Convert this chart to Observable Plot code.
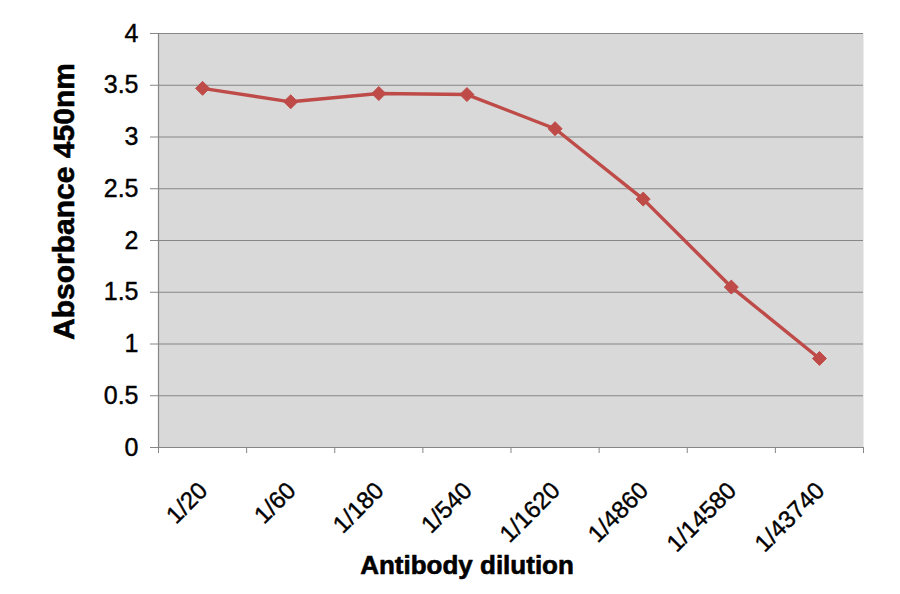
<!DOCTYPE html>
<html>
<head>
<meta charset="utf-8">
<script src="https://cdn.jsdelivr.net/npm/d3@7"></script>
<script src="https://cdn.jsdelivr.net/npm/@observablehq/plot@0.6"></script>
<style>
  html, body { margin: 0; padding: 0; background: #fff; }
  #chart svg { display: block; }
</style>
</head>
<body>
<div id="chart"></div>
<script>
const dilutions = ["1/20", "1/60", "1/180", "1/540", "1/1620", "1/4860", "1/14580", "1/43740"];
const absorbance = [3.47, 3.34, 3.42, 3.41, 3.08, 2.40, 1.55, 0.86];
const yTicks = [0, 0.5, 1, 1.5, 2, 2.5, 3, 3.5, 4];
const xTitle = "Antibody dilution";
const yTitle = "Absorbance 450nm";

const data = dilutions.map((d, i) => ({label: d, pos: i + 0.5, value: absorbance[i]}));
const boundaries = d3.range(dilutions.length + 1);

const font = "'Liberation Sans', Arial, sans-serif";
const red = "#be4b48";

const chart = Plot.plot({
  width: 900,
  height: 594,
  marginLeft: 158,
  marginRight: 37,
  marginTop: 33,
  marginBottom: 147,
  style: {fontFamily: font, fontSize: "24px", color: "#000", background: "#fff"},
  x: {domain: [0, dilutions.length], axis: null},
  y: {domain: [0, 4], axis: null},
  marks: [
    Plot.frame({fill: "#d9d9d9", stroke: null}),
    Plot.ruleY(yTicks, {stroke: "#868686", strokeWidth: 1.2}),
    Plot.ruleX([0], {stroke: "#868686", strokeWidth: 1.2}),
    Plot.axisY({ticks: yTicks, tickSize: 8, tickFormat: () => "", label: null, stroke: "#868686"}),
    Plot.text(yTicks, {y: d => d, frameAnchor: "left", text: d => String(d), textAnchor: "end", lineAnchor: "middle", dx: -20, fontSize: 25, fill: "#000", stroke: "#000", strokeWidth: 0.4}),
    Plot.axisX({ticks: boundaries, tickSize: 6, tickFormat: () => "", label: null, stroke: "#868686"}),
    Plot.text(data, {x: "pos", y: () => 0, text: "label", rotate: -45, textAnchor: "end", lineAnchor: "middle", dx: 1, dy: 39, fontSize: 24, fill: "#000", stroke: "#000", strokeWidth: 0.4}),
    Plot.line(data, {x: "pos", y: "value", stroke: red, strokeWidth: 3.4}),
    Plot.dot(data, {x: "pos", y: "value", symbol: "diamond2", r: 6.3, fill: red, stroke: red, strokeWidth: 1}),
    Plot.text([xTitle], {frameAnchor: "bottom", textAnchor: "middle", lineAnchor: "bottom", dx: -44, dy: 126, fontSize: 26, fontWeight: "bold", fill: "#000", stroke: "#000", strokeWidth: 0.6}),
    Plot.text([yTitle], {frameAnchor: "left", textAnchor: "middle", lineAnchor: "middle", dx: -94, dy: -39, rotate: -90, fontSize: 30, fontWeight: "bold", fill: "#000", stroke: "#000", strokeWidth: 0.6})
  ]
});
document.getElementById("chart").append(chart);
</script>
</body>
</html>
